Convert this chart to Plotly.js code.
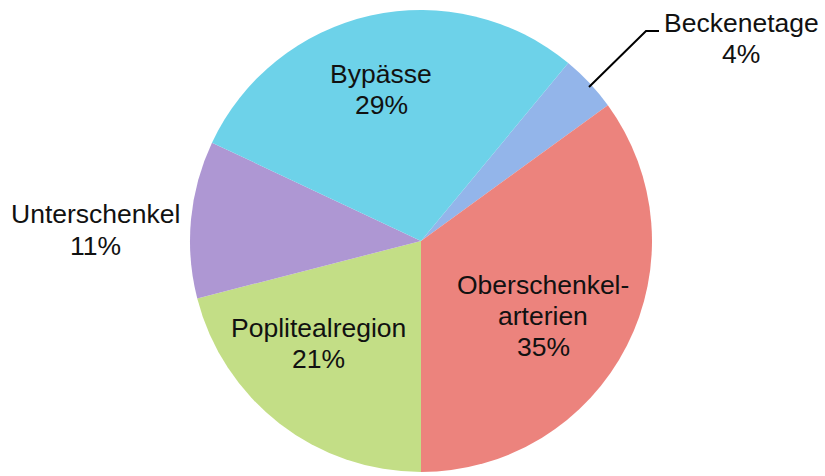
<!DOCTYPE html>
<html>
<head>
<meta charset="utf-8">
<script src="https://cdn.plot.ly/plotly-3.0.1.min.js"></script>
<style>html,body{margin:0;padding:0;background:#fff;}#chart{width:825px;height:476px;}</style>
</head>
<body>
<div id="chart"></div>
<script>
// Data
const categories = ['Beckenetage', 'Oberschenkelarterien', 'Poplitealregion', 'Unterschenkel', 'Bypässe'];
const displayLines = [['Beckenetage'], ['Oberschenkel-', 'arterien'], ['Poplitealregion'], ['Unterschenkel'], ['Bypässe']];
const values = [4, 35, 21, 11, 29];

// Styles / positions
const colors = ['#93b5ea', '#ec837d', '#c3de86', '#ae97d3', '#6dd2e9'];
const labelPos = [[741, 38], [543, 316], [318, 343], [95, 230], [381, 89]]; // pixel centers of label blocks
const lineGap = 31;
const W = 825, H = 476;
const px = x => x / W, py = y => 1 - y / H;

const cx = 421, cy = 241, R = 231;

const trace = {
  type: 'pie',
  labels: categories,
  values: values,
  sort: false,
  direction: 'clockwise',
  rotation: 39.6,
  textinfo: 'none',
  hoverinfo: 'label+percent',
  marker: {colors: colors, line: {width: 0}},
  domain: {x: [px(cx - R), px(cx + R)], y: [py(cy + R), py(cy - R)]},
  showlegend: false
};

const annotations = [];
categories.forEach((c, i) => {
  const lines = displayLines[i].concat([values[i] + '%']);
  const y0 = labelPos[i][1] - (lines.length - 1) * lineGap / 2;
  lines.forEach((t, k) => {
    annotations.push({
      xref: 'paper', yref: 'paper',
      x: px(labelPos[i][0]), y: py(y0 + k * lineGap),
      xanchor: 'center', yanchor: 'middle',
      text: t,
      showarrow: false,
      font: {family: 'Liberation Sans, Arial, sans-serif', size: 26.5, color: '#111'}
    });
  });
});

const shapes = [{
  type: 'path', xref: 'paper', yref: 'paper',
  path: `M ${px(589)} ${py(87)} L ${px(646)} ${py(31)} L ${px(659)} ${py(31)}`,
  line: {color: '#000', width: 2}
}];

Plotly.newPlot('chart', [trace], {
  width: W, height: H,
  margin: {l: 0, r: 0, t: 0, b: 0},
  paper_bgcolor: '#fff',
  annotations: annotations,
  shapes: shapes
}, {displayModeBar: false, staticPlot: true});
</script>
</body>
</html>
